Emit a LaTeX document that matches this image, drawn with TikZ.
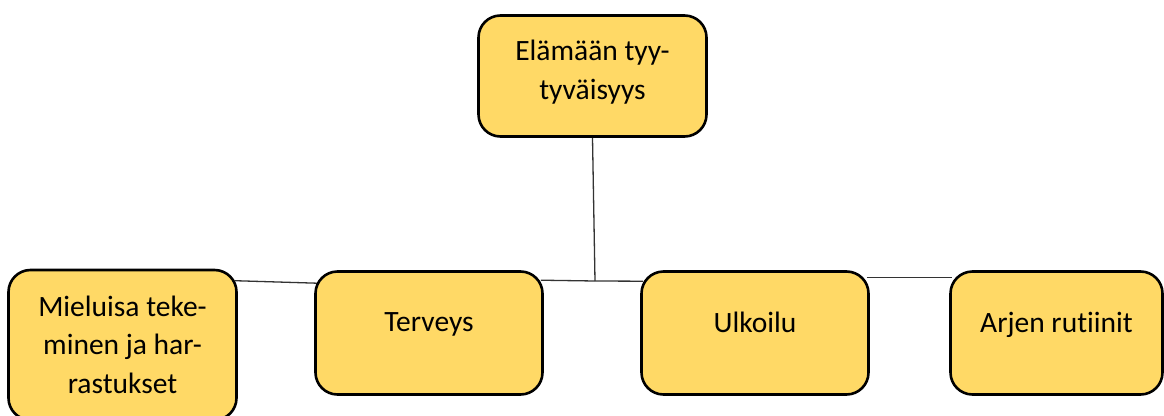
\documentclass[tikz,border=0pt]{standalone}
\usepackage{fontspec}
\setmainfont{Carlito}[Ligatures=NoCommon]
\usetikzlibrary{calc,backgrounds}
\definecolor{boxfill}{HTML}{FFD966}
\begin{document}
\begin{tikzpicture}[x=1pt,y=-1pt,
 box/.style={draw=black, line width=2.6pt, fill=boxfill, rounded corners=22pt, inner sep=0pt},
 lbl/.style={font=\fontsize{29.5}{38.5}\selectfont, align=center, inner sep=0pt, anchor=base},
 link/.style={draw=black!80, line width=1.3pt}]
\useasboundingbox (0,0) rectangle (1164,415);
\begin{scope}
\clip (0,0) rectangle (1164,415);
\node[box, minimum width=228pt, minimum height=121pt] (top) at (592.5,76) {};
\node[box, minimum width=228pt, minimum height=150pt] (m) at (122.5,345) {};
\node[box, minimum width=227pt, minimum height=123pt] (t) at (429,333) {};
\node[box, minimum width=227pt, minimum height=123pt] (u) at (755,333) {};
\node[box, minimum width=212pt, minimum height=123pt] (a) at (1056.5,333) {};
\node[lbl] (toptxt) at (592.5,99) {Elämään tyy-\\tyväisyys};
\node[lbl] (mtxt) at (122.5,393) {Mieluisa teke-\\minen ja har-\\rastukset};
\node[lbl] (ttxt) at (429,331) {Terveys};
\node[lbl] (utxt) at (755,332) {Ulkoilu};
\node[lbl] (atxt) at (1056.5,332) {Arjen rutiinit};
\coordinate (j) at (595,281);
\begin{scope}[on background layer]
\draw[link] (top.south) -- (j);
\draw[link] ($(m.north east)+(-3,12)$) -- ($(t.north west)+(3,13)$);
\draw[link] ($(t.north east)+(-3,10)$) -- (j) -- ($(u.north west)+(3,11)$);
\draw[link] ($(u.north east)+(-3,7)$) -- ($(a.north west)+(3,7)$);
\end{scope}
\end{scope}
\end{tikzpicture}
\end{document}
